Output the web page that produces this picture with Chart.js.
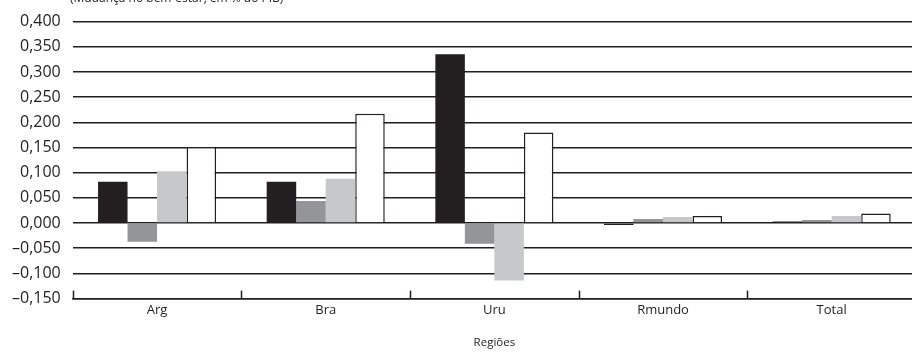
<!DOCTYPE html>
<html>
<head>
<meta charset="utf-8">
<script src="https://cdn.jsdelivr.net/npm/chart.js@4"></script>
<style>
  html, body { margin: 0; padding: 0; background: #fff; overflow: hidden; }
  #wrap { position: relative; width: 920px; height: 352px; }
  #unit {
    position: absolute; left: 70px; top: -11px;
    font-family: "Open Sans", sans-serif; font-size: 12px; color: #231f20;
    white-space: nowrap;
  }
</style>
</head>
<body>
<div id="wrap">
  <canvas id="chart" width="920" height="352"></canvas>
  <div id="unit">(Mudança no bem-estar, em % do PIB)</div>
</div>
<script>
const regions = ["Arg", "Bra", "Uru", "Rmundo", "Total"];
const serie1 = [0.082, 0.082, 0.335, -0.004, 0.003];
const serie2 = [-0.037, 0.044, -0.041, 0.008, 0.006];
const serie3 = [0.103, 0.088, -0.114, 0.012, 0.014];
const serie4 = [0.151, 0.217, 0.180, 0.014, 0.019];

const ink = "#231f20";

// small upward ticks on the bottom axis, at the category boundaries
const boundaryTicks = {
  id: "boundaryTicks",
  afterDatasetsDraw(chart) {
    const x = chart.scales.x;
    const bottom = chart.chartArea.bottom;
    const ctx = chart.ctx;
    const half = (x.getPixelForValue(1) - x.getPixelForValue(0)) / 2;
    ctx.save();
    ctx.strokeStyle = ink;
    ctx.lineWidth = 1.5;
    for (let i = 0; i <= regions.length; i++) {
      const px = Math.round(x.getPixelForValue(i) - half) + 0.5;
      ctx.beginPath();
      ctx.moveTo(px, bottom);
      ctx.lineTo(px, bottom - 8);
      ctx.stroke();
    }
    ctx.restore();
  }
};

new Chart(document.getElementById("chart"), {
  type: "bar",
  data: {
    labels: regions,
    datasets: [
      { label: "Série 1", data: serie1, backgroundColor: "#231f20", borderWidth: 0 },
      { label: "Série 2", data: serie2, backgroundColor: "#939598", borderWidth: 0 },
      { label: "Série 3", data: serie3, backgroundColor: "#c7c8ca", borderWidth: 0 },
      { label: "Série 4", data: serie4, backgroundColor: "#ffffff", borderColor: ink, borderWidth: 1.5 }
    ]
  },
  options: {
    responsive: false,
    animation: false,
    layout: { padding: { top: 8, right: 4, left: 0, bottom: 2 } },
    categoryPercentage: 0.7,
    barPercentage: 1.0,
    plugins: {
      legend: { display: false },
      tooltip: { enabled: false }
    },
    scales: {
      x: {
        grid: { display: false, drawTicks: false },
        border: { display: true, color: ink, width: 1.5 },
        ticks: { color: ink, font: { family: "Open Sans", size: 13 }, padding: 4 },
        title: {
          display: true, text: "Regiões", color: ink,
          font: { family: "Open Sans", size: 11.5 }, padding: { top: 14, bottom: 0 }
        }
      },
      y: {
        min: -0.15,
        max: 0.4,
        border: { display: false },
        grid: { color: ink, lineWidth: 1.5, drawTicks: false },
        ticks: {
          stepSize: 0.05,
          padding: 12,
          color: ink,
          font: { family: "Open Sans", size: 16 },
          callback: v => (v < 0 ? "–" : "") + Math.abs(v).toFixed(3).replace(".", ",")
        }
      }
    }
  },
  plugins: [boundaryTicks]
});
</script>
</body>
</html>
